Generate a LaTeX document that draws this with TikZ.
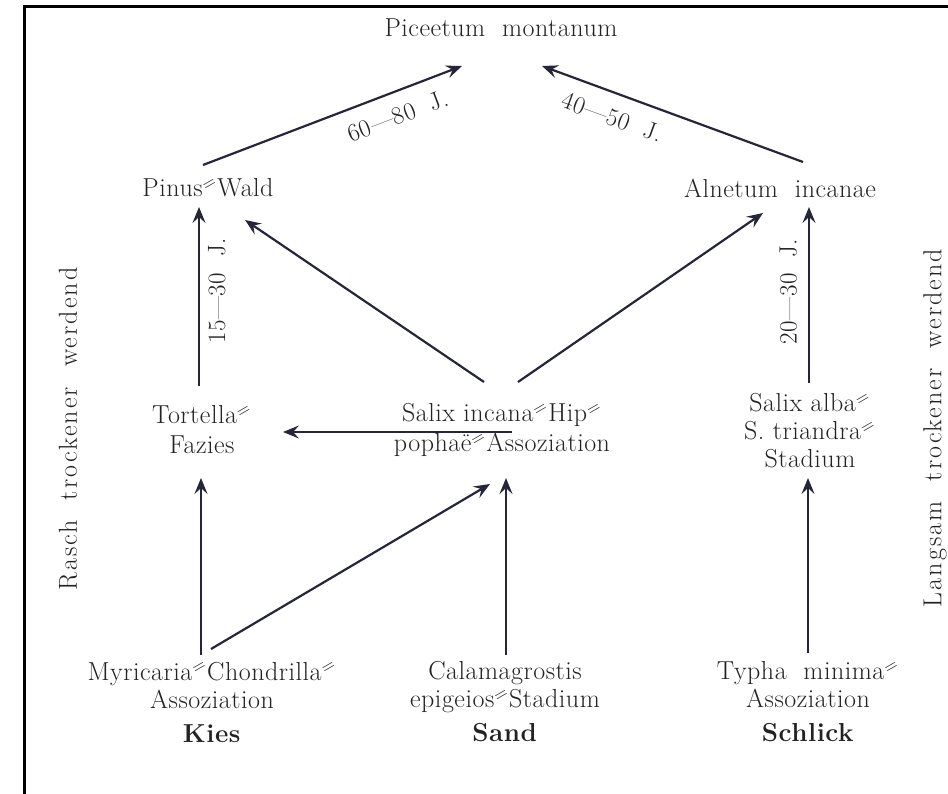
\documentclass[tikz,border=0pt]{standalone}
\usepackage{graphicx}
\usepackage{fontspec}
\setmainfont{Latin Modern Roman}[LetterSpace=2]
\newfontfamily\sperr{Latin Modern Roman}[LetterSpace=8]
\usetikzlibrary{arrows.meta}
\definecolor{ink}{HTML}{222222}
\definecolor{lineink}{HTML}{26263A}
\newcommand\dbh{\raisebox{.45ex}{\rotatebox{30}{\scalebox{0.7}[0.75]{=}}}}
\tikzset{
  lbl/.style={font=\fontsize{26}{28}\selectfont, text=ink, align=center, inner sep=0pt},
  side/.style={font=\sperr\fontsize{26}{28}\selectfont, text=ink, inner sep=0pt, rotate=90},
  yrs/.style={font=\fontsize{25}{27}\selectfont, text=ink, inner sep=0pt},
  arr/.style={draw=lineink, line width=2.2pt, -{Stealth[length=16pt,width=13pt,inset=6pt]}},
  frame/.style={draw=black, line width=3pt}
}
\begin{document}
\begin{tikzpicture}[x=1pt,y=-1pt]
\useasboundingbox (0,0) rectangle (948,794);
\draw[frame] (24,794) -- (24,7) -- (948,7);

\node[lbl] (pic) at (501,28) {Piceetum\ \ montanum};
\node[lbl] (pinus) at (208,188) {Pinus\dbh Wald};
\node[lbl] (alnus) at (780,188) {Alnetum\ \ incanae};
\node[lbl] (tort) at (202,430) {Tortella\dbh\\[2pt]Fazies};
\node[lbl] (salix) at (502,430) {Salix incana\dbh Hip\dbh\\[2pt]pophaë\dbh Assoziation};
\node[lbl] (salba) at (810,431) {Salix alba\dbh\\S. triandra\dbh\\Stadium};
\node[lbl] (myr) at (212,702) {Myricaria\dbh Chondrilla\dbh\\Assoziation\\[6pt]\textbf{Kies}};
\node[lbl] (cal) at (505,702) {Calamagrostis\\epigeios\dbh Stadium\\[6pt]\textbf{Sand}};
\node[lbl] (typ) at (808,702) {Typha\ \ minima\dbh\\Assoziation\\[6pt]\textbf{Schlick}};

\node[side] (rasch) at (68,429) {Rasch\hspace{20pt}trockener\hspace{20pt}werdend};
\node[side] (langsam) at (935,428) {Langsam\hspace{20pt}trockener\hspace{20pt}werdend};

\draw[arr] ([shift={(-5,-23)}]pinus.center) -- node[yrs, pos=0.72, rotate=21, anchor=north, outer sep=15pt] (l1) {60---80\ \ J.} ([shift={(-39,38)}]pic.center);
\draw[arr] ([shift={(23,-26)}]alnus.center) -- node[yrs, pos=0.70, rotate=-20, anchor=north, outer sep=15pt] (l2) {40---50\ \ J.} ([shift={(41,38)}]pic.center);
\draw[arr] ([shift={(-3,-44)}]tort.center) -- node[yrs, pos=0.53, rotate=90, anchor=north, outer sep=9pt] (l3) {15---30\ \ J.} ([shift={(-9,19)}]pinus.center);
\draw[arr] ([shift={(-18,-48)}]salix.center) -- ([shift={(37,32)}]pinus.center);
\draw[arr] ([shift={(16,-48)}]salix.center) -- ([shift={(-17,25)}]alnus.center);
\draw[arr] ([shift={(-1,-48)}]salba.center) -- node[yrs, pos=0.52, rotate=90, anchor=south, outer sep=12pt] (l4) {20---30\ \ J.} ([shift={(29,19)}]alnus.center);
\draw[arr] ([shift={(10,2)}]salix.center) -- ([shift={(81,2)}]tort.center);
\draw[arr] ([shift={(-11,-47)}]myr.center) -- ([shift={(-1,48)}]tort.center);
\draw[arr] ([shift={(-1,-53)}]myr.center) -- ([shift={(-12,54)}]salix.center);
\draw[arr] ([shift={(1,-47)}]cal.center) -- ([shift={(4,48)}]salix.center);
\draw[arr] ([shift={(0,-49)}]typ.center) -- ([shift={(-2,47)}]salba.center);
\end{tikzpicture}
\end{document}
